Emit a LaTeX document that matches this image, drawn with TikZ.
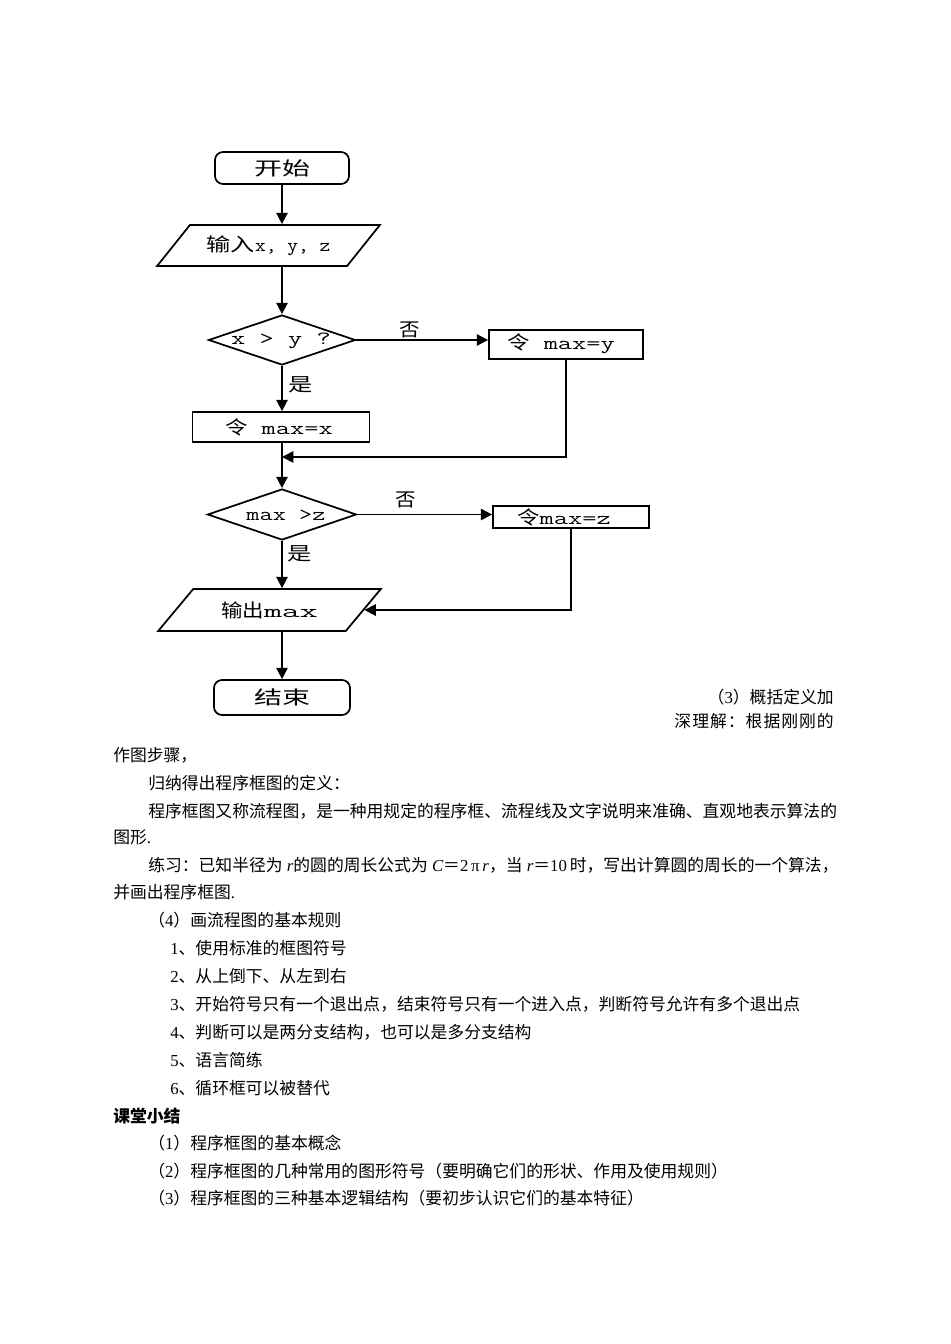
\documentclass[tikz,border=0pt]{standalone}
\usepackage{fontspec}
\usepackage{graphicx}
\setmainfont{Liberation Serif}
\newfontfamily\cjk{Noto Sans CJK SC}
\usetikzlibrary{shapes.geometric,arrows.meta}
\newcommand\fc[2]{{\fontsize{14}{16}\selectfont\cjk\scalebox{#1}[1]{#2}}}
\newcommand\fm[2]{{\fontsize{14}{16}\selectfont\ttfamily\scalebox{#1}[1]{#2}}}
\newcommand\bodyfont{\fontsize{12.6}{15}\selectfont\cjk}
\newcommand\lat[1]{{\rmfamily #1}}
\begin{document}
\begin{tikzpicture}[x=0.75pt,y=-0.75pt,
  flow/.style={line width=1.3pt, draw=black},
  arr/.style={flow, -{Triangle[length=8.5pt,width=8.5pt]}},
  term/.style={flow, rectangle, rounded corners=6pt, inner sep=0pt},
  proc/.style={flow, rectangle, inner sep=0pt},
  io/.style={flow, trapezium, trapezium stretches=true, inner sep=0pt,
    trapezium left angle=37.7, trapezium right angle=142.3},
  dec/.style={flow, diamond, inner sep=0pt},
  lbl/.style={inner sep=0pt},
  bodyl/.style={inner sep=0pt, anchor=west, font=\bodyfont},
  bodyr/.style={inner sep=0pt, anchor=east, font=\bodyfont},
]
\path[use as bounding box, fill=white] (0,0) rectangle (950,1344);

% ---------- flowchart shapes ----------
\node[term, minimum width=134*0.75pt, minimum height=32*0.75pt] (start) at (282,168) {\fc{1.5}{开始}};
\node[io, minimum width=223*0.75pt, minimum height=41*0.75pt] (in) at (268.5,245.5) {\fc{1.3}{输入}\fm{1.12}{x, y, z}};
\node[dec, minimum width=147*0.75pt, minimum height=50*0.75pt] (d1) at (282,340) {};
\node[proc, minimum width=154*0.75pt, minimum height=29*0.75pt] (yb) at (566,344.5) {};
\node[proc, minimum width=177*0.75pt, minimum height=30*0.75pt] (xb) at (281,427) {};
\node[dec, minimum width=149*0.75pt, minimum height=51*0.75pt] (d2) at (282,514.5) {};
\node[proc, minimum width=156*0.75pt, minimum height=22*0.75pt] (zb) at (571,517) {};
\node[io, minimum width=223*0.75pt, minimum height=42*0.75pt] (out) at (269.5,610) {\fc{1.15}{输出}\fm{1.87}{max}};
\node[term, minimum width=136*0.75pt, minimum height=35*0.75pt] (end) at (282,697.5) {\fc{1.5}{结束}};

% ---------- flowchart texts ----------
\node[lbl] (td1) at (281,341) {\fm{1.48}{x > y ?}};
\node[lbl] (tyb) at (561,344) {\fc{1.2}{令}\fm{1.48}{ max=y}};
\node[lbl] (txb) at (279,427) {\fc{1.2}{令}\fm{1.48}{ max=x}};
\node[lbl] (td2) at (286,515) {\fm{1.37}{max  >z}};
\node[lbl] (tzb) at (564,517) {\fc{1.2}{令}\fm{1.48}{max=z}};
\node[lbl] (no1) at (410,330) {\fc{1.1}{否}};
\node[lbl] (yes1) at (301,385) {\fc{1.3}{是}};
\node[lbl] (no2) at (406,500) {\fc{1.1}{否}};
\node[lbl] (yes2) at (300,554) {\fc{1.3}{是}};

% ---------- connectors ----------
\coordinate (j1) at (282,457);
\draw[arr] (start.south) -- (start.south |- in.north);
\draw[arr] (d1.north |- in.south) -- (d1.north);
\draw[arr] (d1.east) -- (d1.east -| yb.west);
\draw[arr] (d1.south) -- (d1.south |- xb.north);
\draw[arr] (d2.north |- xb.south) -- (d2.north);
\draw[arr] (yb.south) |- (j1);
\draw[arr] (d2.east) -- (d2.east -| zb.west);
\draw[arr] (d2.south) -- (d2.south |- out.north);
\draw[arr] (zb.south) |- (out.east);
\draw[arr] (end.north |- out.south) -- (end.north);

% ---------- body text ----------
\node[bodyr] (p1) at (834,697) {（\lat{3}）概括定义加};
\node[bodyr] (p2) at (834,721) {\addfontfeature{LetterSpace=6}深理解：根据刚刚的};
\node[bodyl] (p3) at (113,755) {作图步骤，};
\node[bodyl] (p4) at (148,783) {归纳得出程序框图的定义：};
\node[bodyl] (p5) at (148,811) {程序框图又称流程图，是一种用规定的程序框、流程线及文字说明来准确、直观地表示算法的};
\node[bodyl] (p6) at (113,837) {图形\lat{.}};
\node[bodyl] (p7) at (148,865) {练习：已知半径为\lat{ \itshape r}的圆的周长公式为\lat{ \itshape C}＝\lat{2\,π\,\itshape r}，当\lat{ \itshape r}＝\lat{10\,}时，写出计算圆的周长的一个算法，};
\node[bodyl] (p8) at (113,892) {并画出程序框图\lat{.}};
\node[bodyl] (p9) at (148,920) {（\lat{4}）画流程图的基本规则};
\node[bodyl] (r1) at (170,948) {\lat{1}、使用标准的框图符号};
\node[bodyl] (r2) at (170,976) {\lat{2}、从上倒下、从左到右};
\node[bodyl] (r3) at (170,1004) {\lat{3}、开始符号只有一个退出点，结束符号只有一个进入点，判断符号允许有多个退出点};
\node[bodyl] (r4) at (170,1032) {\lat{4}、判断可以是两分支结构，也可以是多分支结构};
\node[bodyl] (r5) at (170,1060) {\lat{5}、语言简练};
\node[bodyl] (r6) at (170,1088) {\lat{6}、循环框可以被替代};
\node[bodyl, font=\bodyfont\bfseries] (h1) at (113,1116) {课堂小结};
\node[bodyl] (s1) at (148,1143) {（\lat{1}）程序框图的基本概念};
\node[bodyl] (s2) at (148,1171) {（\lat{2}）程序框图的几种常用的图形符号（要明确它们的形状、作用及使用规则）};
\node[bodyl] (s3) at (148,1198) {（\lat{3}）程序框图的三种基本逻辑结构（要初步认识它们的基本特征）};
\end{tikzpicture}
\end{document}
